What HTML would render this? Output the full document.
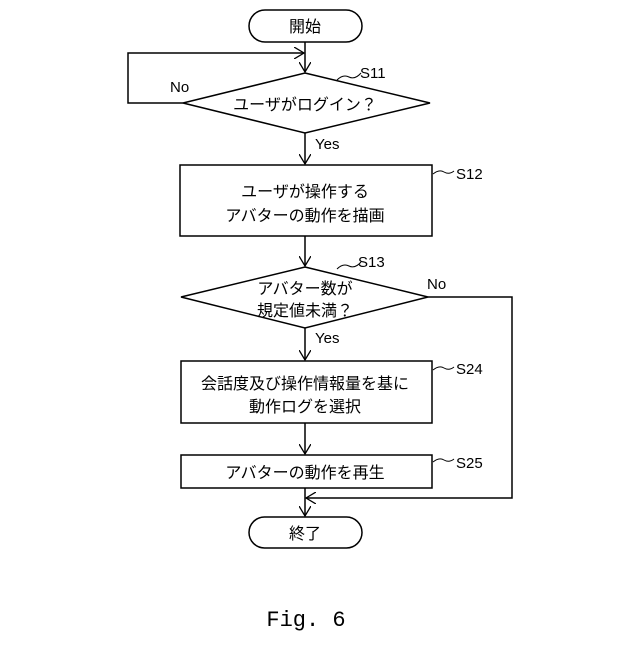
<!DOCTYPE html>
<html><head><meta charset="utf-8"><style>
html,body{margin:0;padding:0;background:#fff}
svg text{font-family:"Liberation Sans","Noto Sans CJK JP",sans-serif;fill:#000}
</style></head><body>
<svg width="640" height="640" viewBox="0 0 640 640" xmlns="http://www.w3.org/2000/svg">
<defs><marker id="a" markerWidth="12" markerHeight="12" refX="10" refY="6" orient="auto" markerUnits="userSpaceOnUse"><path d="M0,0 L10,6 L0,12" fill="none" stroke="#000" stroke-width="1.3"/></marker></defs>
<g fill="none" stroke="#000" stroke-width="1.5">
<rect x="249" y="10" width="113" height="32" rx="16"/>
<line x1="305" y1="42" x2="305" y2="72" marker-end="url(#a)"/>
<polyline points="183,103 128,103 128,53 304,53" marker-end="url(#a)"/>
<polygon points="305,73 430,103 305,133 183,103"/>
<line x1="305" y1="133" x2="305" y2="164" marker-end="url(#a)"/>
<rect x="180" y="165" width="252" height="71"/>
<line x1="305" y1="236" x2="305" y2="266" marker-end="url(#a)"/>
<polygon points="305,267 428,297 305,328 181,297"/>
<line x1="305" y1="328" x2="305" y2="360" marker-end="url(#a)"/>
<rect x="181" y="361" width="251" height="62"/>
<line x1="305" y1="423" x2="305" y2="454" marker-end="url(#a)"/>
<rect x="181" y="455" width="251" height="33"/>
<line x1="305" y1="488" x2="305" y2="516" marker-end="url(#a)"/>
<polyline points="428,297 512,297 512,498 306,498" marker-end="url(#a)"/>
<rect x="249" y="517" width="113" height="31" rx="15.5"/>
<path d="M337,80 q6,-6 12,-3 t12,-4" stroke-width="1"/>
<path d="M433,174 q6,-5 11,-2 t10,-1" stroke-width="1"/>
<path d="M337,269 q6,-6 12,-3 t12,-4" stroke-width="1"/>
<path d="M433,370 q6,-5 11,-2 t10,-1" stroke-width="1"/>
<path d="M433,462 q6,-5 11,-2 t10,-1" stroke-width="1"/>
</g>
<g font-size="16" text-anchor="middle">
<text x="305" y="32">開始</text>
<text x="305" y="110">ユーザがログイン？</text>
<text x="305" y="197">ユーザが操作する</text>
<text x="305" y="221">アバターの動作を描画</text>
<text x="305" y="294">アバター数が</text>
<text x="305" y="316">規定値未満？</text>
<text x="305" y="389">会話度及び操作情報量を基に</text>
<text x="305" y="412">動作ログを選択</text>
<text x="305" y="478">アバターの動作を再生</text>
<text x="305" y="539">終了</text>
</g>
<g font-size="15">
<text x="170" y="92">No</text>
<text x="315" y="149">Yes</text>
<text x="360" y="78">S11</text>
<text x="456" y="179">S12</text>
<text x="358" y="267">S13</text>
<text x="427" y="289">No</text>
<text x="315" y="343">Yes</text>
<text x="456" y="374">S24</text>
<text x="456" y="468">S25</text>
</g>
<text x="306" y="626" font-size="22" text-anchor="middle" style="font-family:'Liberation Mono',monospace">Fig. 6</text>
</svg>
</body></html>
